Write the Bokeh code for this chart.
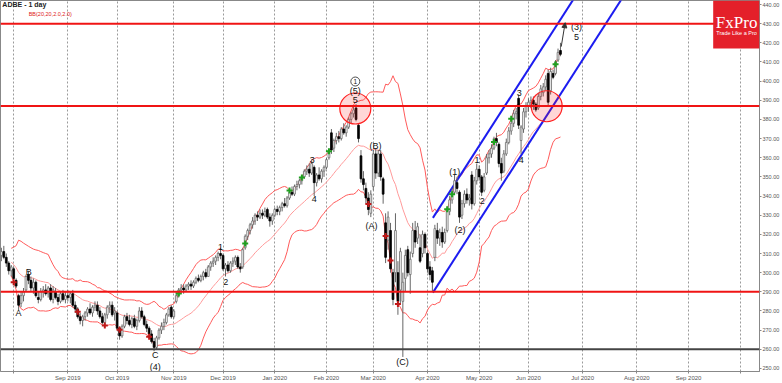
import pandas as pd
from bokeh.plotting import figure
from bokeh.models import (ColumnDataSource, FixedTicker, SingleIntervalTicker,
                          NumeralTickFormatter, Span, BoxAnnotation, Arrow,
                          NormalHead, Range1d, Label)
from bokeh.embed import file_html
from bokeh.resources import INLINE
from bokeh.core.properties import value

# ---------------- data (daily bars, index 0 = 3 Sep 2019) ----------------
first_bar = -27

open_ = [
    309, 311, 308, 305, 301, 302, 296, 288, 284, 288, 291, 299, 296, 292, 295, 287, 286, 290, 291, 289, 292, 286, 290, 287, 285, 289, 286,
    288, 287, 289, 283, 281, 277, 275, 277, 279, 281, 279, 282, 283, 280, 277, 274, 278, 282, 283, 279,
    279, 271, 267, 272, 277, 275, 273, 276, 272, 275, 280, 277, 273, 271, 268, 264, 261, 266, 270, 272, 274, 278, 282,
    277, 285, 288, 291, 292, 291, 293, 294, 293, 295, 297, 296, 298, 300, 298, 303, 305, 306, 308, 310,
    309, 302, 304, 301, 305, 306, 308, 303, 303, 313, 319, 322, 325, 327, 330, 329, 331, 330, 333, 329, 327,
    330, 333, 332, 334, 336, 335, 339, 342, 341, 345, 346, 348, 350, 353, 354, 352, 355, 347, 351, 349, 353,
    355, 360, 373, 365, 369, 371, 370, 375, 373, 376, 380, 383, 386, 377, 361, 349, 344, 339, 331,
    345, 362, 352, 362, 349, 326, 317, 322, 300, 300, 300, 291, 285, 297, 312, 299, 310, 322, 318, 313, 310, 320,
    310, 303, 301, 308, 322, 318, 321, 316, 322, 332, 338, 342, 347, 342, 330, 336, 341, 338, 351, 336, 348,
    354, 350, 343, 352, 360, 362, 365, 370, 367, 357, 353, 362, 368, 374, 378, 383, 391, 369, 375, 384,
    387, 389, 390, 388, 386, 392, 394, 397, 404, 395, 404, 404, 411, 416]

high = [
    313, 314, 310, 306, 304, 303, 297, 289, 290, 292, 299, 301, 298, 297, 296, 290, 292, 293, 294, 293, 294, 293, 292, 289, 290, 291, 290,
    291, 290, 291, 285, 282, 279, 278, 280, 282, 284, 283, 285, 285, 282, 279, 279, 283, 285, 285, 282,
    280, 272, 273, 278, 279, 278, 277, 278, 276, 282, 282, 278, 275, 272, 270, 266, 267, 271, 274, 276, 279, 282, 283,
    281, 290, 292, 294, 294, 294, 295, 296, 296, 298, 299, 299, 301, 302, 304, 306, 308, 309, 311, 313,
    310, 305, 306, 306, 308, 309, 309, 305, 313, 320, 323, 326, 329, 331, 332, 333, 333, 334, 334, 331, 331,
    334, 335, 335, 337, 339, 340, 343, 345, 346, 348, 349, 351, 354, 356, 357, 359, 356, 352, 355, 354, 356,
    360, 364, 375, 370, 373, 374, 376, 378, 377, 381, 384, 387, 388, 378, 364, 353, 347, 342, 343,
    364, 365, 364, 364, 350, 331, 332, 326, 302, 331, 306, 313, 300, 312, 314, 311, 326, 327, 326, 320, 322, 321,
    311, 306, 303, 325, 326, 323, 324, 323, 334, 340, 344, 351, 350, 343, 338, 343, 344, 341, 353, 350, 357,
    356, 351, 352, 362, 364, 367, 371, 373, 368, 360, 364, 370, 376, 380, 385, 386, 393, 377, 386, 389,
    391, 392, 392, 389, 394, 398, 399, 403, 406, 407, 406, 411, 417, 420]

low = [
    306, 307, 303, 299, 298, 296, 292, 280, 282, 285, 290, 294, 290, 289, 287, 284, 285, 287, 288, 287, 285, 284, 286, 283, 284, 285, 284,
    285, 284, 282, 279, 276, 273, 272, 275, 277, 278, 277, 280, 278, 276, 273, 272, 276, 279, 277, 275,
    270, 265, 266, 271, 273, 272, 271, 271, 270, 274, 276, 272, 269, 266, 263, 259, 260, 265, 268, 270, 273, 277, 276,
    276, 284, 287, 289, 289, 290, 291, 291, 292, 294, 295, 295, 296, 297, 298, 301, 303, 304, 306, 307,
    301, 298, 300, 300, 303, 304, 302, 300, 302, 312, 317, 320, 323, 325, 327, 328, 328, 329, 328, 324, 325,
    329, 330, 330, 332, 334, 334, 338, 340, 340, 343, 344, 346, 349, 351, 350, 351, 340, 345, 348, 347, 350,
    354, 359, 362, 363, 367, 368, 369, 372, 371, 375, 378, 381, 379, 368, 347, 343, 336, 330, 329,
    343, 349, 350, 348, 336, 305, 312, 300, 283, 295, 278, 284, 256, 290, 298, 289, 308, 313, 315, 305, 308, 310,
    300, 296, 290, 306, 315, 314, 313, 315, 321, 330, 336, 341, 341, 326, 328, 334, 336, 335, 333, 335, 346,
    348, 340, 342, 351, 357, 360, 364, 366, 355, 348, 352, 361, 367, 372, 376, 380, 375, 362, 373, 381,
    384, 386, 385, 384, 385, 390, 392, 395, 387, 393, 401, 403, 410, 413]

close = [
    311, 308, 305, 301, 303, 297, 293, 283, 288, 290, 298, 296, 292, 295, 288, 286, 290, 291, 289, 292, 286, 291, 287, 285, 289, 286, 288,
    287, 289, 283, 281, 277, 275, 277, 279, 281, 279, 282, 283, 280, 277, 274, 278, 282, 283, 278, 280,
    271, 267, 272, 277, 275, 273, 276, 272, 275, 280, 277, 273, 271, 268, 264, 261, 266, 270, 272, 274, 278, 281, 277,
    280, 288, 291, 292, 291, 293, 294, 293, 295, 297, 296, 298, 300, 298, 303, 305, 306, 308, 310, 309,
    302, 304, 301, 305, 306, 308, 303, 302, 312, 319, 322, 325, 327, 330, 329, 331, 330, 332, 329, 327, 330,
    333, 332, 334, 336, 335, 339, 342, 341, 345, 346, 348, 350, 353, 354, 352, 357, 347, 351, 349, 353, 355,
    359, 363, 364, 369, 371, 370, 375, 373, 376, 380, 383, 385, 380, 370, 349, 346, 339, 333, 341,
    362, 352, 362, 350, 341, 308, 329, 302, 286, 322, 285, 311, 295, 309, 300, 307, 322, 316, 324, 306, 320, 313,
    302, 299, 295, 323, 318, 321, 316, 321, 332, 338, 342, 348, 344, 329, 336, 341, 338, 339, 336, 348, 354,
    350, 342, 350, 360, 362, 365, 370, 368, 357, 352, 362, 368, 374, 378, 383, 384, 377, 376, 384, 387,
    389, 390, 388, 385, 392, 396, 397, 401, 389, 405, 402, 410, 415, 414]

month_ticks = [-22, 0, 20, 43, 63, 84, 105, 124, 146, 167, 187, 209, 231, 252, 273]
month_labels = ["", "Sep 2019", "Oct 2019", "Nov 2019", "Dec 2019", "Jan 2020", "Feb 2020",
                "Mar 2020", "Apr 2020", "May 2020", "Jun 2020", "Jul 2020", "Aug 2020", "Sep 2020", ""]

red_levels = [430, 387, 290]
black_levels = [260]

channel_x = [148.2, 230.0]
channel_low = [289.6, 453.2]
channel_high = [328.6, 492.2]

green_signal_bars = [45, 72, 90, 95, 106, 154, 156, 173, 180, 198]
red_signal_bars = [-22, 4, 15, 21, 33, 122, 129, 131, 134]

wave_text = ["A", "B", "C", "(4)", "1", "2", "3", "4", "(5)", "5", "(B)", "(A)", "(C)",
             "(1)", "(2)", "1", "2", "3", "4", "(3)", "5"]
wave_x = [-20.0, -15.9, 35.5, 35.5, 62.0, 64.1, 99.2, 100.0, 116.7, 116.7, 124.9, 123.3, 135.9,
          157.1, 159.2, 166.1, 168.2, 183.3, 184.1, 206.5, 206.5]
wave_y = [279.1, 300.5, 256.8, 251.0, 313.5, 295.3, 358.8, 338.5, 394.9, 390.0, 366.1, 324.4, 253.1,
          352.5, 322.4, 358.8, 337.5, 393.7, 358.8, 428.5, 423.3]

circled_x = [116.7]
circled_y = [399.8]
circled_text = ["1"]

zone_x = [116.7, 194.4]
zone_y = [385.7, 386.9]

arrow_from = (200.3, 418.0)
arrow_to = (201.9, 430.5)

# ---------------- derived ----------------
bars = list(range(first_bar, first_bar + len(close)))
df = pd.DataFrame(dict(x=bars, o=open_, h=high, l=low, c=close))
df["top"] = df[["o", "c"]].max(axis=1)
df["bot"] = df[["o", "c"]].min(axis=1)
mid = df["c"].rolling(20, min_periods=5).mean()
sd = df["c"].rolling(20, min_periods=5).std(ddof=0)
df["mid"] = mid
df["up"] = mid + 2 * sd
df["dn"] = mid - 2 * sd
bull = df[df["c"] >= df["o"]]
bear = df[df["c"] < df["o"]]
band = df.set_index("x")

# ---------------- figure ----------------
p = figure(width=782, height=383, output_backend="svg", toolbar_location=None,
           x_range=Range1d(-27.35, 280.8), y_range=Range1d(248.4, 442.1),
           y_axis_location="right",
           min_border_left=0, min_border_top=0, min_border_right=0, min_border_bottom=0,
           background_fill_color="white", border_fill_color="white",
           outline_line_color="#888888")

p.xaxis.ticker = FixedTicker(ticks=month_ticks)
p.xaxis.major_label_overrides = {t: l for t, l in zip(month_ticks, month_labels)}
p.xaxis.major_label_text_font_size = "6px"
p.xaxis.major_label_text_font = "Liberation Sans"
p.xaxis.major_label_text_color = "#555555"
p.xaxis.axis_line_color = "#888888"
p.xaxis.major_tick_line_color = "#888888"
p.xaxis.major_tick_in = 0
p.xaxis.major_tick_out = 2
p.xaxis.minor_tick_line_color = None
p.xaxis.major_label_standoff = 1

p.yaxis.ticker = SingleIntervalTicker(interval=10, num_minor_ticks=0)
p.yaxis.formatter = NumeralTickFormatter(format="0.00")
p.yaxis.major_label_text_font_size = "5.5px"
p.yaxis.major_label_text_font = "Liberation Sans"
p.yaxis.major_label_text_color = "#555555"
p.yaxis.axis_line_color = "#888888"
p.yaxis.major_tick_line_color = "#888888"
p.yaxis.major_tick_in = 0
p.yaxis.major_tick_out = 2
p.yaxis.major_label_standoff = 1

p.xgrid.ticker = FixedTicker(ticks=month_ticks)
p.xgrid.grid_line_color = "#9a9a9a"
p.xgrid.grid_line_dash = "2 2"
p.xgrid.grid_line_width = 1
p.ygrid.visible = False

# Bollinger bands
src = ColumnDataSource(df)
p.line("x", "up", source=src, line_color="#ff5a5a", line_width=1)
p.line("x", "dn", source=src, line_color="#ff5a5a", line_width=1)
p.line("x", "mid", source=src, line_color="#ff9a9a", line_width=1)

# horizontal levels
for lvl in red_levels:
    p.add_layout(Span(location=lvl, dimension="width", line_color="#f01414", line_width=2))
for lvl in black_levels:
    p.add_layout(Span(location=lvl, dimension="width", line_color="#444444", line_width=2))

# channel
p.line(channel_x, channel_low, line_color="#1c1cf0", line_width=2)
p.line(channel_x, channel_high, line_color="#1c1cf0", line_width=2)

# candles
p.segment("x", "h", "x", "l", source=src, line_color="#666666", line_width=1)
p.vbar(x="x", top="top", bottom="bot", width=0.72, source=ColumnDataSource(bull),
       fill_color="white", line_color="#6a6a6a", line_width=0.8)
p.vbar(x="x", top="top", bottom="bot", width=0.72, source=ColumnDataSource(bear),
       fill_color="black", line_color="black", line_width=0.8)

# signals on bands
p.scatter(green_signal_bars, [band.loc[b, "up"] for b in green_signal_bars], marker="cross",
          size=6, line_color="#20a020", line_width=2)
p.scatter(red_signal_bars, [band.loc[b, "dn"] for b in red_signal_bars], marker="cross",
          size=6, line_color="#c01818", line_width=2)

# highlighted zones
p.scatter(zone_x, zone_y, marker="circle", size=31, fill_color="#ff2020", fill_alpha=0.18,
          line_color="#ff2020", line_width=1.2)

# arrow
p.add_layout(Arrow(end=NormalHead(size=5, fill_color="#333333", line_color="#333333"),
                   x_start=arrow_from[0], y_start=arrow_from[1],
                   x_end=arrow_to[0], y_end=arrow_to[1],
                   line_color="#333333", line_width=1))

# wave labels
p.text(wave_x, wave_y, text=wave_text, text_font=value("Liberation Sans"),
       text_font_size="9px", text_align="center", text_baseline="middle", text_color="#111111")
p.scatter(circled_x, circled_y, marker="circle", size=9, fill_color=None,
          line_color="#222222", line_width=0.8)
p.text(circled_x, circled_y, text=circled_text, text_font=value("Liberation Sans"),
       text_font_size="6.5px", text_align="center", text_baseline="middle", text_color="#111111")

# title texts
p.text([-26.6], [440.0], text=["ADBE - 1 day"], text_font=value("Liberation Sans"),
       text_font_size="7px", text_font_style="bold", text_align="left", text_baseline="middle",
       text_color="#222222")
p.text([-15.9], [435.3], text=["BB(20,20,2.0,2.0)"], text_font=value("Liberation Sans"),
       text_font_size="5.5px", text_align="left", text_baseline="middle", text_color="#e02020")

# logo
p.add_layout(BoxAnnotation(left=262, bottom=417.1, fill_color="#e4202a", fill_alpha=1.0,
                           line_color=None))
p.add_layout(Label(x=271.5, y=430.8, text="FxPro", text_font="Liberation Serif",
                   text_font_size="17px", text_align="center", text_baseline="middle",
                   text_color="white"))
p.add_layout(Label(x=271.5, y=425.0, text="Trade Like a Pro", text_font="Liberation Sans",
                   text_font_size="5.5px", text_align="center", text_baseline="middle",
                   text_color="white"))

open("out.html", "w").write(file_html(p, INLINE))
